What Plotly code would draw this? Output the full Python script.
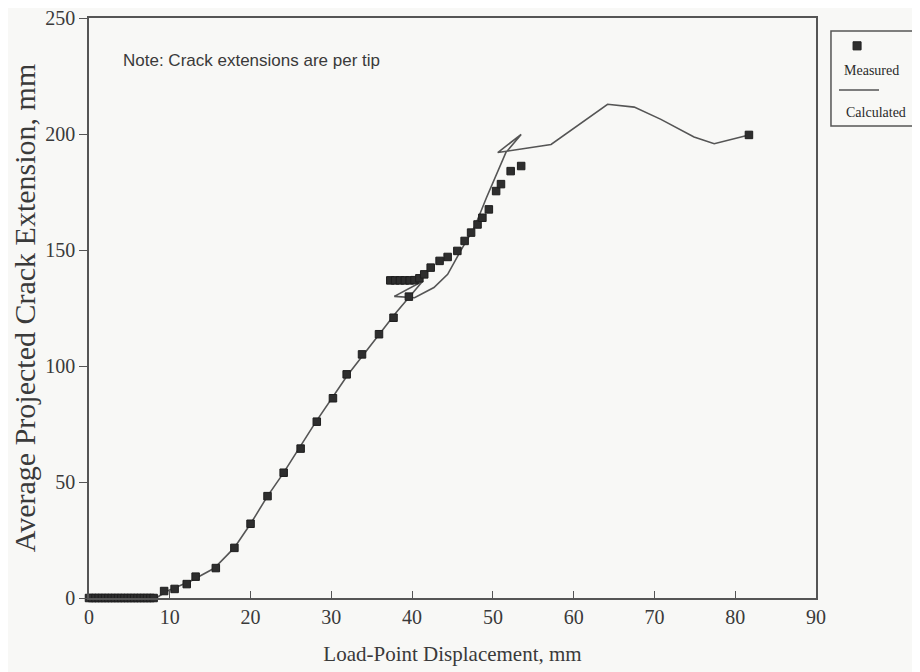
import plotly.graph_objects as go

# Measured data (load-point displacement mm, crack extension mm)
measured_x = [0.0, 0.4, 0.8, 1.2, 1.6, 2.0, 2.4, 2.8, 3.2, 3.6, 4.0, 4.4, 4.8, 5.2, 5.6, 6.0,
              6.4, 6.8, 7.2, 7.6, 8.0,
              9.3, 10.6, 12.1, 13.2, 15.7, 18.0, 20.0, 22.1, 24.1, 26.2, 28.2, 30.2, 31.9,
              33.8, 35.9, 37.7, 39.6,
              37.3, 37.9, 38.5, 39.1, 39.7, 40.3, 40.9, 41.5, 42.3, 43.4, 44.4, 45.6, 46.5,
              47.3, 48.1, 48.7, 49.5, 50.4, 51.0, 52.2, 53.5, 81.7]
measured_y = [0, 0, 0, 0, 0, 0, 0, 0, 0, 0, 0, 0, 0, 0, 0, 0,
              0, 0, 0, 0, 0,
              3.0, 3.9, 6.0, 9.2, 12.9, 21.6, 32.0, 43.9, 54.0, 64.4, 76.0, 86.1, 96.4,
              105.0, 113.7, 120.8, 129.9,
              136.9, 136.9, 136.9, 136.9, 136.9, 137.0, 137.8, 139.5, 142.4, 145.3, 147.0, 149.6, 153.9,
              157.5, 161.0, 163.9, 167.5, 175.4, 178.4, 184.0, 186.2, 199.6]

# Calculated curve
calc_x = [0, 8.3, 9.7, 12.6, 15.5, 18.0, 20.0, 22.1, 24.0, 28.0, 32.0, 36.0, 38.0, 41.3,
          37.8, 40.3, 42.7, 44.4, 46.0, 47.7, 49.2, 51.6, 53.5, 50.6, 57.2, 64.2, 67.5,
          70.8, 74.9, 77.4, 81.7]
calc_y = [0, 0, 3.0, 7.3, 12.8, 21.7, 32.0, 43.9, 53.5, 75.5, 96.0, 114.0, 123.0, 136.5,
          130.0, 129.4, 133.8, 139.5, 149.6, 159.6, 172.5, 192.0, 199.8, 192.0, 195.5, 212.8, 211.6,
          206.3, 198.7, 195.8, 199.6]

x_ticks = [0, 10, 20, 30, 40, 50, 60, 70, 80, 90]
y_ticks = [0, 50, 100, 150, 200, 250]

ink = "#3a3a3a"
serif = "Liberation Serif, Times New Roman, serif"
sans = "Liberation Sans, Arial, sans-serif"

fig = go.Figure()
fig.add_trace(go.Scatter(x=calc_x, y=calc_y, mode="lines", name="Calculated",
                         line=dict(color="#555555", width=1.6), cliponaxis=False))
fig.add_trace(go.Scatter(x=measured_x, y=measured_y, mode="markers", name="Measured",
                         marker=dict(symbol="square", size=7.5, color="#2e2e2e",
                                     line=dict(color="#1e1e1e", width=1)),
                         cliponaxis=False))

fig.update_layout(
    width=920, height=672,
    margin=dict(l=81, r=112, t=10, b=82, autoexpand=False),
    paper_bgcolor="#f8f8f6", plot_bgcolor="#f8f8f6",
    showlegend=False,
    font=dict(family=serif, color=ink, size=20),
)
fig.update_xaxes(range=[0, 90], tickvals=x_ticks, ticks="inside", ticklen=7, tickcolor="#555",
                 showline=True, linecolor="#555", linewidth=1.5, mirror=True, showgrid=False,
                 zeroline=False, automargin=False, ticklabeloverflow="allow",
                 tickfont=dict(family=serif, size=20, color=ink),
                 title=dict(text="Load-Point Displacement, mm", standoff=20,
                            font=dict(family=serif, size=21, color=ink)))
fig.update_yaxes(range=[0, 250], tickvals=y_ticks, ticks="outside", ticklen=8, tickcolor="#555",
                 showline=True, linecolor="#555", linewidth=1.5, mirror=True, showgrid=False,
                 zeroline=False, automargin=False, ticklabeloverflow="allow",
                 tickfont=dict(family=serif, size=20, color=ink),
                 title=dict(text="Average Projected Crack Extension, mm", standoff=8,
                            font=dict(family=serif, size=30, color=ink)))

fig.add_annotation(x=4.0, y=231.5, xref="x", yref="y", text="Note: Crack extensions are per tip",
                   showarrow=False, xanchor="left", yanchor="middle",
                   font=dict(family=sans, size=17, color=ink))

# Legend drawn in paper space (symbol above label, as in the original)
fig.add_shape(type="rect", xref="paper", yref="paper", x0=1.0206, x1=1.17, y0=0.8138, y1=0.9776,
              line=dict(color="#555", width=1.5))
fig.add_shape(type="rect", xref="paper", yref="paper", x0=1.0510, x1=1.0620, y0=0.9450, y1=0.9590,
              line=dict(color="#1e1e1e", width=1), fillcolor="#2e2e2e")
fig.add_annotation(x=1.0757, y=0.9103, xref="paper", yref="paper", text="Measured",
                   showarrow=False, xanchor="center", yanchor="middle",
                   font=dict(family=serif, size=14, color="#2a2a2a"))
fig.add_shape(type="line", xref="paper", yref="paper", x0=1.0316, x1=1.0867, y0=0.8759, y1=0.8759,
              line=dict(color="#555", width=1.5))
fig.add_annotation(x=1.0826, y=0.8379, xref="paper", yref="paper", text="Calculated",
                   showarrow=False, xanchor="center", yanchor="middle",
                   font=dict(family=serif, size=14, color="#2a2a2a"))

fig.write_html("out.html")
